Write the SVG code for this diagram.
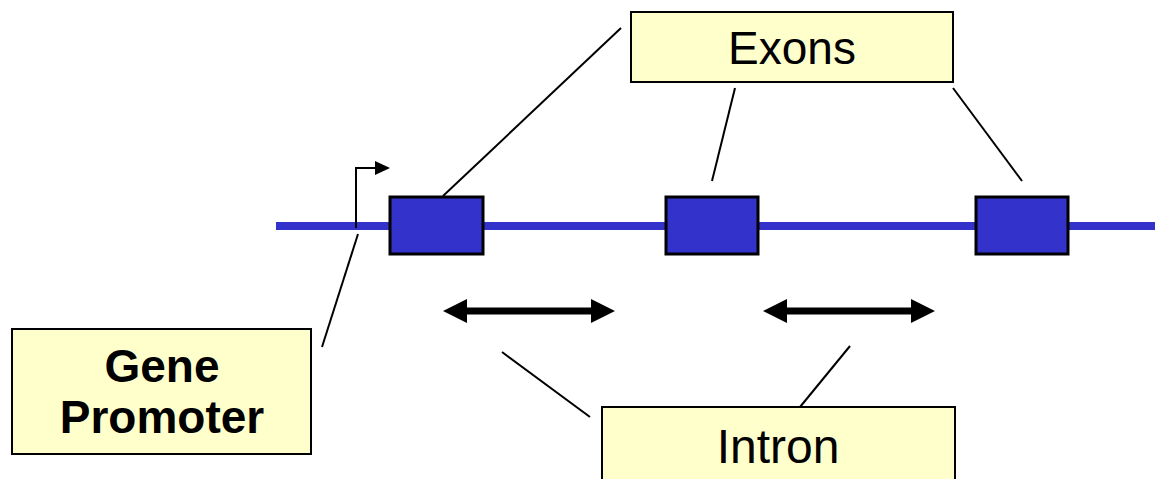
<svg xmlns="http://www.w3.org/2000/svg" width="1155" height="479" viewBox="0 0 1155 479">
<style>
.lbl{fill:#ffffcc;stroke:#000;stroke-width:2}
.t{font-family:"Liberation Sans",Arial,sans-serif;font-size:46px;fill:#000;text-anchor:middle}
.b{font-weight:bold}
.exon{fill:#3333cc;stroke:#000;stroke-width:3}
.ln{stroke:#000;stroke-width:2;fill:none}
</style>
<g id="dna">
<line x1="276" y1="226" x2="1155" y2="226" stroke="#3333cc" stroke-width="8"/>
</g>
<g id="exon1"><rect class="exon" x="390" y="197" width="93" height="57"/></g>
<g id="exon2"><rect class="exon" x="666" y="197" width="92" height="57"/></g>
<g id="exon3"><rect class="exon" x="976" y="197" width="92" height="57"/></g>
<g id="promoter-arrow">
<path d="M356,228 V168 H375" class="ln" stroke-width="3"/>
<path d="M375,161 L390,168 L375,175 z" fill="#000"/>
</g>
<g id="connectors">
<line class="ln" x1="358" y1="234" x2="322" y2="347"/>
<line class="ln" x1="443" y1="196" x2="621" y2="28"/>
<line class="ln" x1="735" y1="88" x2="712" y2="181"/>
<line class="ln" x1="953" y1="88" x2="1022" y2="181"/>
<line class="ln" x1="502" y1="352" x2="590" y2="417"/>
<line class="ln" x1="800" y1="407" x2="850" y2="346"/>
</g>
<g id="intron-arrow1">
<line x1="465" y1="311" x2="593" y2="311" stroke="#000" stroke-width="7"/>
<path d="M443,311 L467,299 L467,323 z" fill="#000"/>
<path d="M615,311 L591,299 L591,323 z" fill="#000"/>
</g>
<g id="intron-arrow2">
<line x1="785" y1="311" x2="913" y2="311" stroke="#000" stroke-width="7"/>
<path d="M763,311 L787,299 L787,323 z" fill="#000"/>
<path d="M935,311 L911,299 L911,323 z" fill="#000"/>
</g>
<g id="exons-label">
<rect class="lbl" x="631" y="12" width="322" height="70"/>
<text class="t" x="792" y="64">Exons</text>
</g>
<g id="promoter-label">
<rect class="lbl" x="12" y="329" width="299" height="125"/>
<text class="t b" x="162" y="382">Gene</text>
<text class="t b" x="162" y="433">Promoter</text>
</g>
<g id="intron-label">
<rect class="lbl" x="602" y="407" width="353" height="80"/>
<text class="t" x="778" y="463" style="font-size:48px">Intron</text>
</g>
</svg>
